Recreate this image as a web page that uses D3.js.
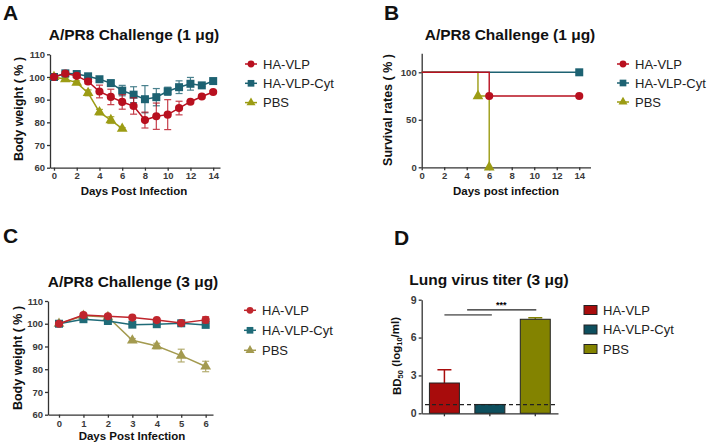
<!DOCTYPE html>
<html>
<head>
<meta charset="utf-8">
<script src="https://cdn.jsdelivr.net/npm/d3@7"></script>
<style>
  body { margin: 0; background: #fff; }
  svg { font-family: "Liberation Sans", Arial, sans-serif; }
  .tick text { font-weight: bold; fill: #3a3a3a; font-size: 9.5px; }
  .domain, .tick line { stroke: #333; stroke-width: 1.3; }
</style>
</head>
<body>
<svg id="chart" width="708" height="444"></svg>
<script>
// ---- data ----
const groups = ["HA-VLP", "HA-VLP-Cyt", "PBS"];

// A: body weight, 1 ug
const daysA = [0, 1, 2, 3, 4, 5, 6, 7, 8, 9, 10, 11, 12, 13, 14];
const hvlpA = [100, 101.5, 100.5, 98, 93.6, 91.2, 89, 87.2, 81, 82.7, 83.4, 86.3, 89.1, 91.4, 93.4];
const hvlpAErr = [0.4, 0.8, 0.8, 1, 2.8, 3.4, 3.2, 3.6, 3.5, 5.8, 6.6, 3.0, 0.6, 0.6, 0.6];
const cytA = [100, 101.6, 101.3, 100.3, 99, 97.3, 94, 92.2, 90.2, 91.1, 93.7, 95.5, 97, 96.3, 98.2];
const cytAErr = [0.3, 0.8, 0.6, 0.6, 0.8, 1.2, 2.3, 3.5, 6, 3.8, 1.8, 2.8, 2.8, 0.5, 0.5];
const daysPbsA = [0, 1, 2, 3, 4, 5, 6];
const pbsA = [100, 99, 97.5, 93, 84.5, 81, 77.2];
const pbsAErr = [0.3, 0.8, 0.8, 1.3, 1.2, 1.5, 0.5];

// B: survival (day, %)
const survHvlp = [[0, 100], [6, 75], [14, 75]];
const survCyt = [[0, 100], [14, 100]];
const survPbs = [[0, 100], [5, 75], [6, 0]];

// C: body weight, 3 ug
const daysC = [0, 1, 2, 3, 4, 5, 6];
const hvlpC = [100, 103.8, 103.3, 102.7, 101.6, 100.3, 101.7];
const hvlpCErr = [0.3, 0.6, 0.5, 0.5, 0.5, 0.6, 1.4];
const cytC = [100, 102, 101.2, 99.6, 99.8, 100.2, 99.5];
const cytCErr = [0.3, 0.5, 0.5, 0.5, 0.4, 1.0, 0.6];
const pbsC = [100, 103.5, 103, 92.7, 90.2, 86, 81.2];
const pbsCErr = [0.3, 0.5, 0.5, 0.8, 1.2, 2.8, 2.3];

// D: lung virus titer
const titer = [2.4, 0.7, 7.45];
const titerErr = [1.05, 0, 0.12];
const detectLimit = 0.68;

const red = "#b8101f", teal = "#1d6272", olive = "#9c9c14";
const svg = d3.select("#chart");

function panelLabel(t, x, y) {
  svg.append("text").attr("x", x).attr("y", y).text(t)
    .style("font-size", "21px").style("font-weight", "bold").attr("fill", "#111");
}
function title(t, x, y) {
  svg.append("text").attr("x", x).attr("y", y).attr("text-anchor", "middle").text(t)
    .style("font-size", "15.5px").style("font-weight", "bold").attr("fill", "#111");
}
function xLabel(t, x, y) {
  svg.append("text").attr("x", x).attr("y", y).attr("text-anchor", "middle").text(t)
    .style("font-size", "11.5px").style("font-weight", "bold").attr("fill", "#111");
}
function yLabel(t, x, y) {
  return svg.append("text").attr("transform", `translate(${x},${y}) rotate(-90)`)
    .attr("text-anchor", "middle").attr("dy", "0.35em").text(t)
    .style("font-size", "12.5px").style("font-weight", "bold").attr("fill", "#111");
}
const shapes = [d3.symbolCircle, d3.symbolSquare, d3.symbolTriangle];
const sizes = [52, 64, 50];

function legend(x, y0, step, colors) {
  groups.forEach((g, i) => {
    const y = y0 + i * step;
    svg.append("line").attr("x1", x - 6).attr("x2", x + 6).attr("y1", y).attr("y2", y)
      .attr("stroke", colors[i]).attr("stroke-width", 1.5);
    svg.append("path").attr("d", d3.symbol(shapes[i], sizes[i] * 0.7)())
      .attr("transform", `translate(${x},${y})`).attr("fill", colors[i]);
    svg.append("text").attr("x", x + 12).attr("y", y).attr("dy", "0.35em").text(g)
      .style("font-size", "13px").attr("fill", "#222");
  });
}

function series(g, x, y, days, vals, errs, color, idx) {
  const pts = days.map((d, i) => ({ d, v: vals[i], e: errs[i] }));
  g.append("path").datum(pts)
    .attr("d", d3.line().x(p => x(p.d)).y(p => y(p.v)))
    .attr("fill", "none").attr("stroke", color).attr("stroke-width", 1.5);
  const eb = g.append("g").attr("stroke", color).attr("stroke-width", 1.2).attr("opacity", 0.8);
  pts.forEach(p => {
    eb.append("line").attr("x1", x(p.d)).attr("x2", x(p.d)).attr("y1", y(p.v - p.e)).attr("y2", y(p.v + p.e));
    [p.v - p.e, p.v + p.e].forEach(v => eb.append("line")
      .attr("x1", x(p.d) - 3.5).attr("x2", x(p.d) + 3.5).attr("y1", y(v)).attr("y2", y(v)));
  });
  g.selectAll(null).data(pts).enter().append("path")
    .attr("d", d3.symbol(shapes[idx], sizes[idx])())
    .attr("transform", p => `translate(${x(p.d)},${y(p.v)})`).attr("fill", color);
}

// ---- Panel A ----
{
  const x = d3.scaleLinear().domain([-0.35, 14.6]).range([50, 220]);
  const y = d3.scaleLinear().domain([60, 110]).range([167.7, 54.3]);
  const g = svg.append("g");
  g.append("g").attr("transform", "translate(0,167.7)")
    .call(d3.axisBottom(x).tickValues(d3.range(0, 15, 2)).tickSize(3).tickPadding(2).tickSizeOuter(0));
  g.append("g").attr("transform", "translate(50,0)")
    .call(d3.axisLeft(y).tickValues(d3.range(60, 111, 10)).tickSize(3).tickPadding(2).tickSizeOuter(0));
  series(g, x, y, daysPbsA, pbsA, pbsAErr, olive, 2);
  series(g, x, y, daysA, cytA, cytAErr, teal, 1);
  series(g, x, y, daysA, hvlpA, hvlpAErr, red, 0);
  panelLabel("A", 3, 20);
  title("A/PR8 Challenge (1 μg)", 134, 40);
  xLabel("Days Post Infection", 134, 195);
  yLabel("Body weight ( % )", 19, 109);
  legend(251, 64, 19.3, [red, teal, olive]);
}

// ---- Panel B ----
{
  const x = d3.scaleLinear().domain([0, 15]).range([421.7, 590.5]);
  const y = d3.scaleLinear().domain([0, 120]).range([167.3, 53.3]);
  const g = svg.append("g");
  g.append("g").attr("transform", "translate(0,167.3)")
    .call(d3.axisBottom(x).tickValues(d3.range(0, 15, 2)).tickSize(3).tickPadding(2).tickSizeOuter(0));
  g.append("g").attr("transform", "translate(421.7,0)")
    .call(d3.axisLeft(y).tickValues([0, 50, 100]).tickSize(3).tickPadding(2).tickSizeOuter(0));
  const step = d3.line().curve(d3.curveStepAfter).x(p => x(p[0])).y(p => y(p[1]));
  [[survPbs, olive, 2], [survCyt, teal, 1], [survHvlp, red, 0]].forEach(([data, c, i]) => {
    g.append("path").datum(data).attr("d", step).attr("fill", "none")
      .attr("stroke", c).attr("stroke-width", 1.4);
    g.selectAll(null).data(data.slice(1)).enter().append("path")
      .attr("d", d3.symbol(shapes[i], sizes[i])())
      .attr("transform", p => `translate(${x(p[0])},${y(p[1])})`).attr("fill", c);
  });
  panelLabel("B", 384, 20);
  title("A/PR8 Challenge (1 μg)", 510, 40);
  xLabel("Days post infection", 506, 195);
  yLabel("Survival rates ( % )", 388, 110);
  legend(623, 64, 19, [red, teal, olive]);
}

// ---- Panel C ----
{
  const cRed = "#c0262d", cTeal = "#1f6b78", cPbs = "#a39a4f";
  const x = d3.scaleLinear().domain([-0.45, 6.3]).range([48, 213]);
  const y = d3.scaleLinear().domain([60, 110]).range([414.7, 301]);
  const g = svg.append("g");
  g.append("g").attr("transform", "translate(0,414.7)")
    .call(d3.axisBottom(x).tickValues(daysC).tickFormat(d3.format("d")).tickSize(3).tickPadding(3).tickSizeOuter(0));
  g.append("g").attr("transform", "translate(48,0)")
    .call(d3.axisLeft(y).tickValues(d3.range(60, 111, 10)).tickSize(3).tickPadding(2).tickSizeOuter(0));
  series(g, x, y, daysC, pbsC, pbsCErr, cPbs, 2);
  series(g, x, y, daysC, cytC, cytCErr, cTeal, 1);
  series(g, x, y, daysC, hvlpC, hvlpCErr, cRed, 0);
  panelLabel("C", 3, 243);
  title("A/PR8 Challenge (3 μg)", 133, 287);
  xLabel("Days Post Infection", 132, 440);
  yLabel("Body weight  ( % )", 18, 358);
  legend(250, 310.3, 20, [cRed, cTeal, cPbs]);
}

// ---- Panel D ----
{
  const barColors = ["#a80c0c", "#0e4f5e", "#838300"];
  const x = d3.scaleBand().domain(groups).range([421.7, 558]).paddingInner(0.34).paddingOuter(0.17);
  const y = d3.scaleLinear().domain([0, 9]).range([413.3, 299.7]);
  const g = svg.append("g");
  // error bars (upper only)
  groups.forEach((k, i) => {
    if (titerErr[i] <= 0) return;
    const cx = x(k) + x.bandwidth() / 2;
    g.append("line").attr("x1", cx).attr("x2", cx).attr("y1", y(titer[i])).attr("y2", y(titer[i] + titerErr[i]))
      .attr("stroke", barColors[i]).attr("stroke-width", 1.5);
    g.append("line").attr("x1", cx - 7).attr("x2", cx + 7)
      .attr("y1", y(titer[i] + titerErr[i])).attr("y2", y(titer[i] + titerErr[i]))
      .attr("stroke", barColors[i]).attr("stroke-width", 1.5);
  });
  g.selectAll(null).data(groups).enter().append("rect")
    .attr("x", k => x(k)).attr("width", x.bandwidth())
    .attr("y", (k, i) => y(titer[i])).attr("height", (k, i) => y(0) - y(titer[i]))
    .attr("fill", (k, i) => barColors[i]).attr("stroke", "#222").attr("stroke-width", 1);
  g.append("g").attr("transform", "translate(0,413.3)")
    .call(d3.axisBottom(x).tickSize(3).tickFormat("").tickSizeOuter(0));
  g.append("g").attr("transform", "translate(421.7,0)")
    .call(d3.axisLeft(y).tickValues([0, 3, 6, 9]).tickSize(3).tickPadding(2).tickSizeOuter(0))
    .selectAll(".tick text").style("font-size", "10.5px").attr("fill", "#222");
  g.append("line").attr("x1", 425).attr("x2", 557).attr("y1", y(detectLimit)).attr("y2", y(detectLimit))
    .attr("stroke", "#222").attr("stroke-width", 1.2).attr("stroke-dasharray", "4,3");
  const c = groups.map(k => x(k) + x.bandwidth() / 2);
  g.append("line").attr("x1", c[0]).attr("x2", c[1] + 2).attr("y1", y(7.8)).attr("y2", y(7.8))
    .attr("stroke", "#777").attr("stroke-width", 1.6);
  g.append("line").attr("x1", (c[0] + c[1]) / 2).attr("x2", c[2] + 1).attr("y1", y(8.2)).attr("y2", y(8.2))
    .attr("stroke", "#222").attr("stroke-width", 1.2);
  g.append("text").attr("x", ((c[0] + c[1]) / 2 + c[2]) / 2).attr("y", y(8.2) - 2)
    .attr("text-anchor", "middle").text("***").style("font-size", "9px").style("font-weight", "bold");
  panelLabel("D", 394, 245);
  title("Lung virus titer (3 μg)", 489, 285);
  const yl = yLabel("", 397, 356).style("font-size", "11.5px");
  yl.append("tspan").text("BD");
  yl.append("tspan").text("50").style("font-size", "7.5px").attr("dy", "0.3em");
  yl.append("tspan").text(" (log").attr("dy", "-0.3em");
  yl.append("tspan").text("10").style("font-size", "7.5px").attr("dy", "0.3em");
  yl.append("tspan").text("/ml)").attr("dy", "-0.3em");
  groups.forEach((k, i) => {
    const yy = 310 + i * 19.5;
    svg.append("rect").attr("x", 584).attr("y", yy - 4.5).attr("width", 13).attr("height", 9)
      .attr("fill", barColors[i]).attr("stroke", "#222").attr("stroke-width", 1);
    svg.append("text").attr("x", 603).attr("y", yy).attr("dy", "0.35em").text(k)
      .style("font-size", "13px").attr("fill", "#222");
  });
}
</script>
</body>
</html>
